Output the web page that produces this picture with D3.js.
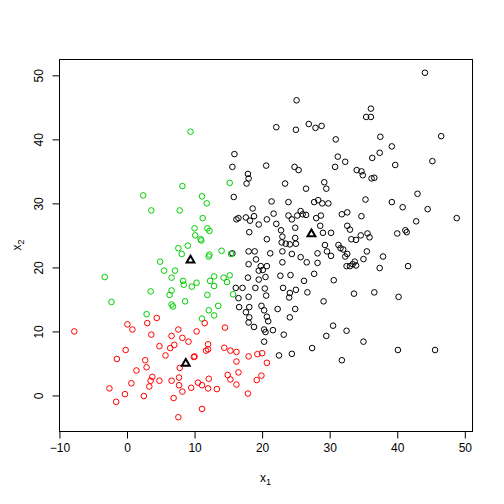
<!DOCTYPE html>
<html><head><meta charset="utf-8">
<script src="https://cdn.jsdelivr.net/npm/d3@7"></script>
<style>body{margin:0;background:#fff}svg{display:block}</style>
</head><body><div id="chart"></div>
<script>
// cluster 1 (black)
const blackX = [15.9,15.6,20.6,17.9,18.0,17.7,25.1,36.1,35.4,36.1,22.1,25.0,26.9,27.9,28.8,30.9,31.2,32.3,30.8,24.8,25.4,34.0,34.7,34.9,36.3,36.2,23.4,29.2,44.1,37.5,46.5,39.2,37.4,39.7,45.2,36.6,26.5,29.5,35.3,21.4,23.9,27.7,28.3,28.9,29.8,21.7,20.7,23.9,24.4,25.2,25.7,26.0,26.5,28.0,28.7,31.8,32.6,34.7,22.1,24.9,28.6,32.6,33.0,22.8,23.0,24.9,29.0,30.2,34.6,35.6,35.9,33.2,33.9,20.7,22.9,23.5,24.1,25.0,29.3,31.3,31.6,32.0,29.6,28.2,30.2,21.2,23.0,24.4,32.6,32.3,35.5,25.7,26.6,28.2,35.0,33.7,33.4,33.0,32.5,33.9,23.0,20.7,27.7,20.5,22.7,24.2,26.2,30.6,23.1,24.1,25.0,26.7,24.0,20.6,33.6,29.1,22.3,24.9,36.6,43.0,39.2,40.8,44.5,48.8,42.8,41.2,41.4,40.0,37.9,37.4,41.6,40.2,20.7,24.1,20.9,20.3,21.6,23.2,20.5,30.5,32.5,29.5,35.0,20.3,27.4,22.5,24.4,31.8,40.1,45.6,15.8,18.6,18.8,17.6,16.5,16.2,18.2,19.5,18.1,15.6,18.0,18.9,19.1,18.0,19.8,20.1,19.5,17.9,19.5,17.1,16.1,19.0,20.4,16.5,18.0,16.6,18.1,19.9,17.6,18.1,18.0,18.8,20.3];
const blackY = [37.7,35.7,35.9,34.6,33.9,33.1,46.1,44.8,43.5,43.5,41.9,41.5,42.4,41.8,42.1,40.0,37.3,36.5,35.7,35.7,35.2,35.2,35.0,34.4,37.1,33.9,33.1,33.3,50.4,40.4,40.5,38.9,37.9,36.0,36.6,34.0,32.3,32.3,30.6,30.3,30.2,30.2,30.5,30.0,30.0,28.4,27.5,28.1,27.5,28.1,28.8,28.3,28.2,27.7,28.1,28.3,28.6,28.0,26.8,26.2,26.5,26.5,25.9,25.8,24.8,24.6,25.4,25.4,25.0,25.3,24.7,24.4,24.3,24.4,23.9,23.7,23.6,23.7,23.5,23.5,23.0,22.8,22.5,22.2,21.8,22.2,22.5,22.1,22.1,21.7,22.5,21.6,20.8,20.7,21.3,20.9,20.5,20.2,20.2,20.3,20.8,20.2,19.0,18.5,18.7,18.8,17.9,18.0,16.8,16.0,16.5,16.1,15.3,15.6,15.9,14.7,13.5,13.5,16.1,31.5,30.2,29.4,29.1,27.7,27.2,25.8,25.5,25.3,21.7,19.9,20.2,15.4,12.3,12.2,11.6,10.3,10.2,9.5,9.9,10.9,10.1,9.3,8.4,8.4,7.4,6.25,6.5,5.5,7.1,7.1,31.0,29.2,28.0,27.8,27.7,27.5,27.3,26.7,25.5,22.2,22.5,22.5,21.25,20.5,20.2,19.6,19.5,18.4,18.1,16.8,16.8,16.8,16.7,15.2,15.4,13.8,13.8,14.0,13.0,12.2,11.4,10.7,13.3];
// cluster 2 (green)
const greenX = [9.4,15.2,8.2,2.4,3.6,11.1,11.8,7.8,11.2,10.0,11.9,12.2,10.1,10.9,11.0,9.0,7.6,8.1,14.0,15.4,12.2,12.1,4.9,5.5,7.1,6.6,15.2,14.3,12.9,8.3,8.4,10.3,12.3,12.9,14.8,9.6,6.6,6.3,11.9,8.6,6.6,6.8,13.5,12.1,15.7,-3.3,3.5,-2.3,11.1,12.9,2.9];
const greenY = [41.2,33.2,32.7,31.25,28.9,31.1,30.0,28.9,27.7,26.1,26.1,25.7,25.0,24.4,24.2,23.4,23.0,22.1,22.6,22.1,22.0,21.7,20.9,19.5,19.5,18.4,18.75,18.4,18.6,17.9,17.3,17.6,17.9,17.1,17.7,17.0,16.4,15.7,15.7,14.7,14.2,13.9,14.0,13.3,15.8,18.5,16.25,14.6,12.0,12.5,12.7];
// cluster 3 (red)
const redX = [11.5,7.6,10.3,14.5,6.6,8.2,9.1,4.8,7.0,6.4,12.0,12.0,11.7,14.4,15.3,16.2,5.7,9.9,10.0,18.0,19.3,20.0,16.2,20.7,7.8,16.5,14.9,15.3,19.9,19.2,4.8,6.6,7.7,12.1,10.5,11.1,12.0,13.3,9.5,7.7,8.2,16.2,6.9,17.9,11.1,7.6,4.4,0.06,3.0,0.8,-7.8,3.6,-0.2,-1.5,2.7,2.9,1.4,3.75,3.5,0.65,3.3,-2.6,-0.3,2.5,-1.6];
const redY = [11.3,10.3,10.0,10.6,9.3,9.0,8.4,7.7,7.9,7.4,8.0,7.2,7.0,7.45,7.0,6.8,6.25,6.0,6.1,6.1,6.45,6.6,5.3,5.1,4.3,3.6,3.2,2.5,3.1,2.4,2.3,2.3,2.8,2.6,2.0,1.6,1.1,1.0,1.2,1.6,0.6,1.7,-0.4,0.3,-2.1,-3.4,12.1,11.1,11.3,10.3,10.0,9.5,7.1,5.7,5.5,4.4,3.9,2.9,2.3,1.9,1.4,1.1,0.2,-0.1,-1.0];
// cluster centres (triangles)
const centerX = [27.3, 9.4, 8.7];
const centerY = [25.2, 21.1, 5.0];
const xTicks = [-10, 0, 10, 20, 30, 40, 50];
const yTicks = [0, 10, 20, 30, 40, 50];

const W = 504, H = 504;
const L = 59, R = 472, T = 59, B = 431;
const svg = d3.select("#chart").append("svg").attr("width", W).attr("height", H)
  .style("font-family", "'Liberation Sans', Arial, Helvetica, sans-serif");

const allX = blackX.concat(greenX, redX), allY = blackY.concat(greenY, redY);
function ext(a){const [mn,mx]=d3.extent(a);const d=(mx-mn)*0.04;return [mn-d,mx+d];}
const x = d3.scaleLinear().domain(ext(allX)).range([L, R]);
const y = d3.scaleLinear().domain(ext(allY)).range([B, T]);

const groups = [
  {xs: blackX, ys: blackY, col: "#000000"},
  {xs: greenX, ys: greenY, col: "#00CD00"},
  {xs: redX, ys: redY, col: "#FF0000"}
];
groups.forEach(g => {
  const pts = g.xs.map((v, i) => [v, g.ys[i]]);
  svg.append("g").selectAll("circle").data(pts).join("circle")
    .attr("cx", d => x(d[0])).attr("cy", d => y(d[1])).attr("r", 2.8)
    .attr("fill", "none").attr("stroke", g.col).attr("stroke-width", 1);
});

// triangles
const u = 2.9;
const tri = d3.line();
svg.append("g").selectAll("path").data(centerX.map((v, i) => [v, centerY[i]])).join("path")
  .attr("d", d => {
    const cx = x(d[0]), cy = y(d[1]);
    return tri([[cx, cy - 1.5551*u], [cx + 1.3468*u, cy + 0.7776*u], [cx - 1.3468*u, cy + 0.7776*u]]) + "Z";
  })
  .attr("fill", "none").attr("stroke", "#000").attr("stroke-width", 2).attr("stroke-linejoin", "miter");

// box
svg.append("rect").attr("x", L + 0.5).attr("y", T + 0.5).attr("width", R - L).attr("height", B - T)
  .attr("fill", "none").attr("stroke", "#000").attr("stroke-width", 1);

// x axis
const gx = svg.append("g").attr("transform", `translate(0,${B + 0.5})`)
  .call(d3.axisBottom(x).tickValues(xTicks).tickSize(7).tickPadding(5).tickFormat(d3.format("d")));
gx.select(".domain").attr("d", `M${x(xTicks[0])},0H${x(xTicks[xTicks.length-1])}`);
gx.selectAll("text").attr("font-size", 12).attr("font-family", "'Liberation Sans', Arial, sans-serif").attr("fill", "#000");

// y axis
const gy = svg.append("g").attr("transform", `translate(${L + 0.5},0)`)
  .call(d3.axisLeft(y).tickValues(yTicks).tickSize(7).tickFormat(d3.format("d")));
gy.select(".domain").attr("d", `M0,${y(yTicks[0])}V${y(yTicks[yTicks.length-1])}`);
gy.selectAll(".tick text").attr("font-size", 12).attr("font-family", "'Liberation Sans', Arial, sans-serif").attr("fill", "#000")
  .attr("x", null).attr("dy", null)
  .attr("transform", "translate(-17,0) rotate(-90)").attr("text-anchor", "middle").attr("y", 0);

// axis titles
const xt = svg.append("text").attr("x", (L + R) / 2).attr("y", 482).attr("text-anchor", "middle").attr("font-size", 12);
xt.append("tspan").text("x");
xt.append("tspan").attr("font-size", 9).attr("dy", 3).text("1");
const yt = svg.append("text").attr("transform", `translate(21,${(T + B) / 2}) rotate(-90)`).attr("text-anchor", "middle").attr("font-size", 12);
yt.append("tspan").text("x");
yt.append("tspan").attr("font-size", 9).attr("dy", 3).text("2");
</script>
</body></html>
